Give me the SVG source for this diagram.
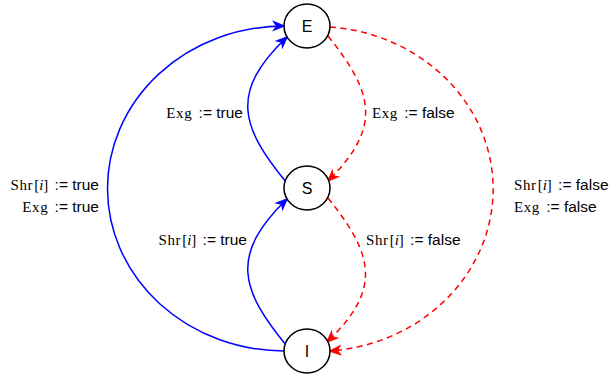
<svg xmlns="http://www.w3.org/2000/svg" width="611" height="375" viewBox="0 0 611 375">
<style>
.node{fill:#fff;stroke:#000;stroke-width:1.5}
.nl{font-family:'Liberation Sans',Arial,sans-serif;font-size:16px;fill:#000;text-anchor:middle}
.lbl{font-family:'Liberation Sans',Arial,sans-serif;font-size:15.5px;fill:#000}
.tt{font-family:'Liberation Serif','Times New Roman',serif;font-size:15px;letter-spacing:0.6px}
.rm{font-family:'Liberation Serif','Times New Roman',serif;font-size:15px}
.it{font-family:'Liberation Serif','Times New Roman',serif;font-size:15px;font-style:italic}
.blue{fill:none;stroke:#0000FF;stroke-width:1.5}
.red{fill:none;stroke:#FF0000;stroke-width:1.5;stroke-dasharray:6 4.5}
</style>
<defs>
<marker id="ab" markerUnits="userSpaceOnUse" markerWidth="12" markerHeight="10" refX="10.5" refY="4.5" orient="auto" overflow="visible">
<path d="M0,0 L11,4.5 L0,9 L3,4.5 Z" fill="#0000FF" stroke="#0000FF" stroke-width="1"/>
</marker>
<marker id="ar" markerUnits="userSpaceOnUse" markerWidth="12" markerHeight="10" refX="10.5" refY="4.5" orient="auto" overflow="visible">
<path d="M0,0 L11,4.5 L0,9 L3,4.5 Z" fill="#FF0000" stroke="#FF0000" stroke-width="1"/>
</marker>
</defs>
<g id="connectors">
<path class="blue" d="M 285 351 A 177 162.5 0 0 1 284 26" marker-end="url(#ab)"/>
<path class="blue" d="M 286 182 C 241 127 229 92 287 37" marker-end="url(#ab)"/>
<path class="blue" d="M 286 345 C 241 290 229 255 287 199" marker-end="url(#ab)"/>
<path class="red" d="M 328 36 C 372 91 384 126 328 181" marker-end="url(#ar)"/>
<path class="red" d="M 328 198 C 372 253 384 288 327 342" marker-end="url(#ar)"/>
<path class="red" d="M 330 27 A 177 162.5 0 0 1 330 351" marker-end="url(#ar)"/>
</g>
<g id="labels">
<text class="lbl" x="99" y="190" text-anchor="end"><tspan class="tt">Shr</tspan><tspan class="rm" dx="1">[</tspan><tspan class="it">i</tspan><tspan class="rm">]</tspan><tspan dx="2"> := true</tspan></text>
<text class="lbl" x="99" y="212" text-anchor="end"><tspan class="tt">Exg</tspan><tspan dx="2"> := true</tspan></text>
<text class="lbl" x="243" y="118" text-anchor="end"><tspan class="tt">Exg</tspan><tspan dx="2"> := true</tspan></text>
<text class="lbl" x="372" y="118"><tspan class="tt">Exg</tspan><tspan dx="2"> := false</tspan></text>
<text class="lbl" x="247" y="245" text-anchor="end"><tspan class="tt">Shr</tspan><tspan class="rm" dx="1">[</tspan><tspan class="it">i</tspan><tspan class="rm">]</tspan><tspan dx="2"> := true</tspan></text>
<text class="lbl" x="366" y="245"><tspan class="tt">Shr</tspan><tspan class="rm" dx="1">[</tspan><tspan class="it">i</tspan><tspan class="rm">]</tspan><tspan dx="2"> := false</tspan></text>
<text class="lbl" x="514" y="190"><tspan class="tt">Shr</tspan><tspan class="rm" dx="1">[</tspan><tspan class="it">i</tspan><tspan class="rm">]</tspan><tspan dx="2"> := false</tspan></text>
<text class="lbl" x="514" y="212"><tspan class="tt">Exg</tspan><tspan dx="2"> := false</tspan></text>
</g>
<g id="node-E"><ellipse class="node" cx="307" cy="26" rx="23" ry="22"/><text class="nl" x="307" y="32">E</text></g>
<g id="node-S"><ellipse class="node" cx="307" cy="188" rx="23" ry="22"/><text class="nl" x="307" y="194">S</text></g>
<g id="node-I"><ellipse class="node" cx="307" cy="351" rx="23" ry="22"/><text class="nl" x="307" y="357">I</text></g>
</svg>
